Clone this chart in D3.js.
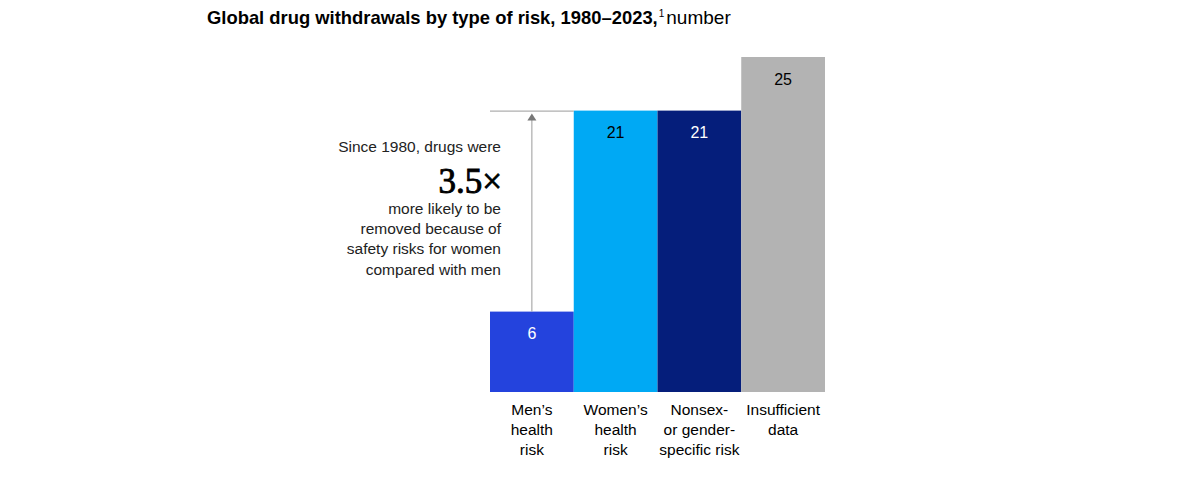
<!DOCTYPE html>
<html lang="en">
<head>
<meta charset="UTF-8">
<title>Global drug withdrawals by type of risk</title>
<style>
  body { margin: 0; background: #fff; }
  svg { display: block; font-family: "Liberation Sans", Arial, sans-serif; }
</style>
</head>
<body>
<script src="https://d3js.org/d3.v7.min.js"></script>
<div id="chart"></div>
<script>
// data
const categories = ["Men's health risk", "Women's health risk", "Nonsex- or gender-specific risk", "Insufficient data"];
const categoryLines = [["Men\u2019s", "health", "risk"], ["Women\u2019s", "health", "risk"], ["Nonsex-", "or gender-", "specific risk"], ["Insufficient", "data"]];
const values = [6, 21, 21, 25];
const barColors = ["#2443dd", "#00a9f4", "#051e7b", "#b3b3b3"];
const labelColors = ["#fff", "#000", "#fff", "#000"];
const noteLines = ["more likely to be", "removed because of", "safety risks for women", "compared with men"];

const width = 1200, height = 480;
const svg = d3.select("#chart").append("svg").attr("width", width).attr("height", height);

const x = d3.scaleBand().domain(categories).range([490, 825]).padding(0);
const y = d3.scaleLinear().domain([0, 25]).range([392, 57]);

// title
const title = svg.append("text").attr("x", 207).attr("y", 24).attr("fill", "#000").style("font-size", "18.4px");
title.append("tspan").attr("font-weight", "bold").text("Global drug withdrawals by type of risk, 1980\u20132023,");
title.append("tspan").style("font-size", "10px").attr("dy", -7).attr("dx", 1).text("1");
title.append("tspan").attr("dy", 7).attr("dx", 2).style("font-size", "19px").text("number");

// bars
svg.selectAll("rect.bar").data(values).enter().append("rect")
  .attr("class", "bar")
  .attr("x", (d, i) => x(categories[i]))
  .attr("y", d => y(d))
  .attr("width", x.bandwidth())
  .attr("height", d => y(0) - y(d))
  .attr("fill", (d, i) => barColors[i]);

// value labels
svg.selectAll("text.val").data(values).enter().append("text")
  .attr("class", "val")
  .attr("x", (d, i) => x(categories[i]) + x.bandwidth() / 2)
  .attr("y", d => y(d) + 27.5)
  .attr("text-anchor", "middle")
  .attr("fill", (d, i) => labelColors[i])
  .style("font-size", "16px")
  .text(d => d);

// category labels
const cats = svg.selectAll("text.cat").data(categories).enter().append("text")
  .attr("class", "cat")
  .attr("text-anchor", "middle")
  .attr("fill", "#000")
  .style("font-size", "15.5px");
cats.each(function(d, i) {
  const cx = x(d) + x.bandwidth() / 2;
  d3.select(this).selectAll("tspan").data(categoryLines[i]).enter().append("tspan")
    .attr("x", cx)
    .attr("y", (t, j) => 415 + j * 19.8)
    .text(t => t);
});

// comparison marker: reference line at women's level and arrow from men's bar
const ref = values[1];
svg.append("line")
  .attr("x1", x(categories[0])).attr("x2", x(categories[1]))
  .attr("y1", y(ref) + 0.5).attr("y2", y(ref) + 0.5)
  .attr("stroke", "#9b9b9b").attr("stroke-width", 1);
const ax = x(categories[0]) + x.bandwidth() / 2;
svg.append("line")
  .attr("x1", ax).attr("x2", ax)
  .attr("y1", y(values[0])).attr("y2", y(ref) + 8)
  .attr("stroke", "#9b9b9b").attr("stroke-width", 1);
svg.append("path")
  .attr("d", d3.line()([[ax - 4.5, y(ref) + 10], [ax, y(ref) + 3], [ax + 4.5, y(ref) + 10]]) + "Z")
  .attr("fill", "#777");

// annotation
const noteX = 501;
svg.append("text").attr("x", noteX).attr("y", 152).attr("text-anchor", "end")
  .attr("fill", "#222").style("font-size", "15.5px").text("Since 1980, drugs were");
svg.append("text").attr("x", noteX + 1).attr("y", 193).attr("text-anchor", "end")
  .attr("fill", "#000").attr("stroke", "#000").attr("stroke-width", 0.9)
  .style("font-family", "'Liberation Serif', 'DejaVu Serif', serif")
  .style("font-size", "35px").text("3.5\u00d7");
svg.selectAll("text.note").data(noteLines).enter().append("text")
  .attr("class", "note")
  .attr("x", noteX)
  .attr("y", (d, i) => 214 + i * 20.2)
  .attr("text-anchor", "end")
  .attr("fill", "#222")
  .style("font-size", "15.5px")
  .text(d => d);
</script>
</body>
</html>
